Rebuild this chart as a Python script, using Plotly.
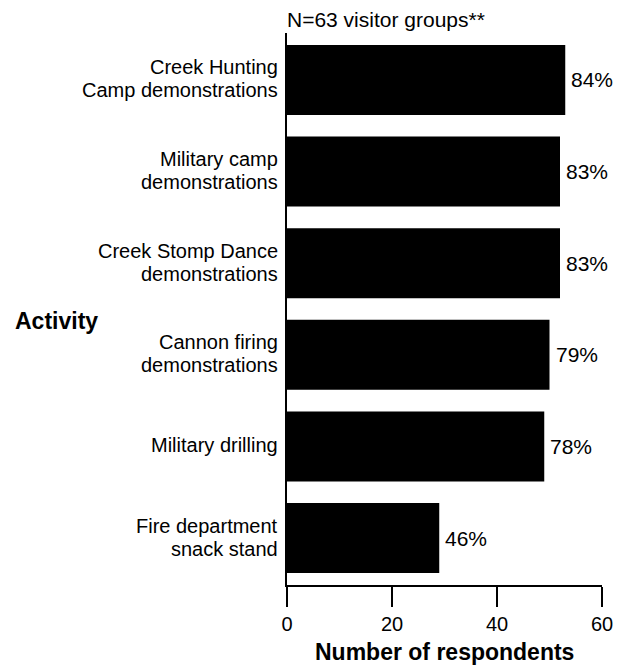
import plotly.graph_objects as go

# Activities attended, number of respondents and share of visitor groups
activities = [
    "Creek Hunting<br>Camp demonstrations",
    "Military camp<br>demonstrations",
    "Creek Stomp Dance<br>demonstrations",
    "Cannon firing<br>demonstrations",
    "Military drilling",
    "Fire department<br>snack stand",
]
respondents = [53, 52, 52, 50, 49, 29]
percents = [84, 83, 83, 79, 78, 46]
x_ticks = [0, 20, 40, 60]
sample_note = "N=63 visitor groups**"

FONT = "Liberation Sans, Arial, Helvetica, sans-serif"
LABEL_SIZE = 20
LINE_GAP = 23  # px between baselines of two-line category labels

fig = go.Figure(
    go.Bar(
        x=respondents,
        y=activities,
        orientation="h",
        marker=dict(color="black", line=dict(width=0)),
        width=0.764,
        hoverinfo="skip",
    )
)

# Category labels, right-aligned against the vertical axis
for act in activities:
    lines = act.split("<br>")
    n = len(lines)
    for i, line in enumerate(lines):
        shift = ((n - 1) / 2 - i) * LINE_GAP + 1
        fig.add_annotation(
            x=0, y=act, xref="x", yref="y",
            text=line, showarrow=False,
            xanchor="right", yanchor="middle",
            xshift=-7, yshift=shift,
            font=dict(family=FONT, size=LABEL_SIZE, color="black"),
        )

# Percentage labels just past the end of each bar
for act, n, p in zip(activities, respondents, percents):
    fig.add_annotation(
        x=n, y=act, xref="x", yref="y",
        text=f"{p}%", showarrow=False,
        xanchor="left", yanchor="middle", xshift=4,
        font=dict(family=FONT, size=21, color="black"),
    )

fig.add_annotation(
    x=0, y=1.0236, xref="paper", yref="paper",
    text=sample_note, showarrow=False,
    xanchor="left", yanchor="middle", xshift=-2,
    font=dict(family=FONT, size=21, color="black"),
)

fig.add_annotation(
    x=-0.87, y=0.478, xref="paper", yref="paper",
    text="<b>Activity</b>", showarrow=False,
    xanchor="left", yanchor="middle",
    font=dict(family=FONT, size=23, color="black"),
)

# Horizontal axis title
fig.add_annotation(
    x=0.5, y=-0.1214, xref="paper", yref="paper",
    text="<b>Number of respondents</b>", showarrow=False,
    xanchor="center", yanchor="middle",
    font=dict(family=FONT, size=23, color="black"),
)

fig.update_layout(
    width=622, height=666,
    margin=dict(l=287, r=20, t=33, b=81),
    plot_bgcolor="white", paper_bgcolor="white",
    showlegend=False,
    font=dict(family=FONT, size=LABEL_SIZE, color="black"),
    xaxis=dict(
        range=[0, 60],
        tickvals=x_ticks,
        ticks="outside", ticklen=20, tickwidth=2, tickcolor="black",
        showline=True, linecolor="black", linewidth=2,
        showgrid=False, zeroline=False, automargin=False,
        tickfont=dict(family=FONT, size=LABEL_SIZE),
    ),
    yaxis=dict(
        range=[5.513, -0.513],
        showticklabels=False, ticks="",
        showline=True, linecolor="black", linewidth=2,
        showgrid=False, zeroline=False, automargin=False,
    ),
)

fig.write_html("out.html")
